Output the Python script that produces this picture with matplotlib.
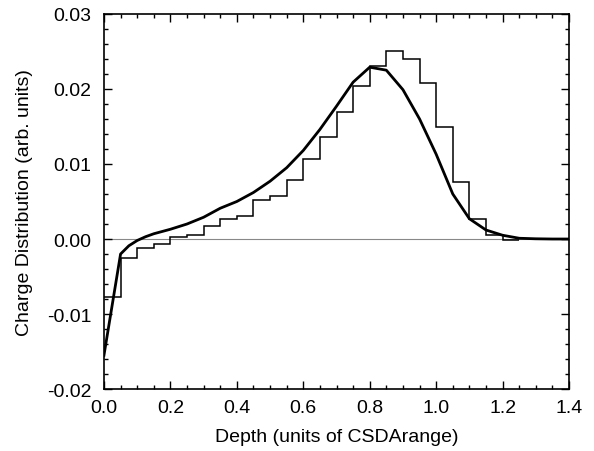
import numpy as np
import matplotlib
matplotlib.use("Agg")
import matplotlib.pyplot as plt
from matplotlib.ticker import MultipleLocator, FormatStrFormatter

plt.rcParams["font.family"] = ["Liberation Sans", "DejaVu Sans"]
plt.rcParams["axes.unicode_minus"] = False

# histogram (Monte Carlo), bins of 0.05
bin_edges = np.round(np.arange(0.0, 1.2501, 0.05), 2)
hist_vals = [
    -0.0077, -0.0025, -0.0012, -0.0007, 0.0003, 0.0006, 0.0017, 0.0027,
    0.0031, 0.0052, 0.0057, 0.0078, 0.0107, 0.0136, 0.0169, 0.0204,
    0.0231, 0.0251, 0.0240, 0.0208, 0.0149, 0.0076, 0.0027, 0.0006,
    -0.0001,
]

# model curve
curve_x = [
    0.0, 0.05, 0.075, 0.1, 0.125, 0.15, 0.2, 0.25, 0.3, 0.35, 0.4, 0.45,
    0.5, 0.55, 0.6, 0.65, 0.7, 0.75, 0.8, 0.85, 0.9, 0.95, 1.0, 1.05,
    1.1, 1.15, 1.2, 1.25, 1.3, 1.35, 1.4,
]
curve_y = [
    -0.0155, -0.0020, -0.0009, -0.0002, 0.0003, 0.0007, 0.0013, 0.0020,
    0.0029, 0.0041, 0.0050, 0.0062, 0.0077, 0.0095, 0.0118, 0.0146,
    0.0177, 0.0209, 0.0229, 0.0225, 0.0199, 0.0160, 0.0113, 0.0060,
    0.0027, 0.0012, 0.0005, 0.0001, 0.00003, 0.0, 0.0,
]

fig = plt.figure(figsize=(5.94, 4.52), dpi=100)
ax = fig.add_axes([0.175, 0.137, 0.783, 0.830])

ax.axhline(0, color="#888888", lw=0.8, zorder=1)
ax.stairs(hist_vals, bin_edges, baseline=None, color="black", lw=1.1, zorder=2)
ax.plot(curve_x, curve_y, color="black", lw=2.0, zorder=3)

ax.set_xlim(0, 1.4)
ax.set_ylim(-0.02, 0.03)
ax.xaxis.set_major_locator(MultipleLocator(0.2))
ax.xaxis.set_minor_locator(MultipleLocator(0.05))
ax.yaxis.set_major_locator(MultipleLocator(0.01))
ax.yaxis.set_minor_locator(MultipleLocator(0.002))
ax.xaxis.set_major_formatter(FormatStrFormatter("%.1f"))
ax.yaxis.set_major_formatter(FormatStrFormatter("%.2f"))
ax.tick_params(which="both", direction="in", top=True, right=True, width=1.0)
ax.tick_params(which="major", length=6, labelsize=14)
ax.tick_params(axis="y", which="major", pad=9)
ax.tick_params(axis="x", which="major", pad=7)
ax.tick_params(which="minor", length=3)
for s in ax.spines.values():
    s.set_linewidth(1.2)

ax.set_xlabel("Depth (units of CSDArange)", fontsize=14, labelpad=9)
ax.set_ylabel("Charge Distribution (arb. units)", fontsize=14, labelpad=10)

fig.savefig("out.png", dpi=100)
